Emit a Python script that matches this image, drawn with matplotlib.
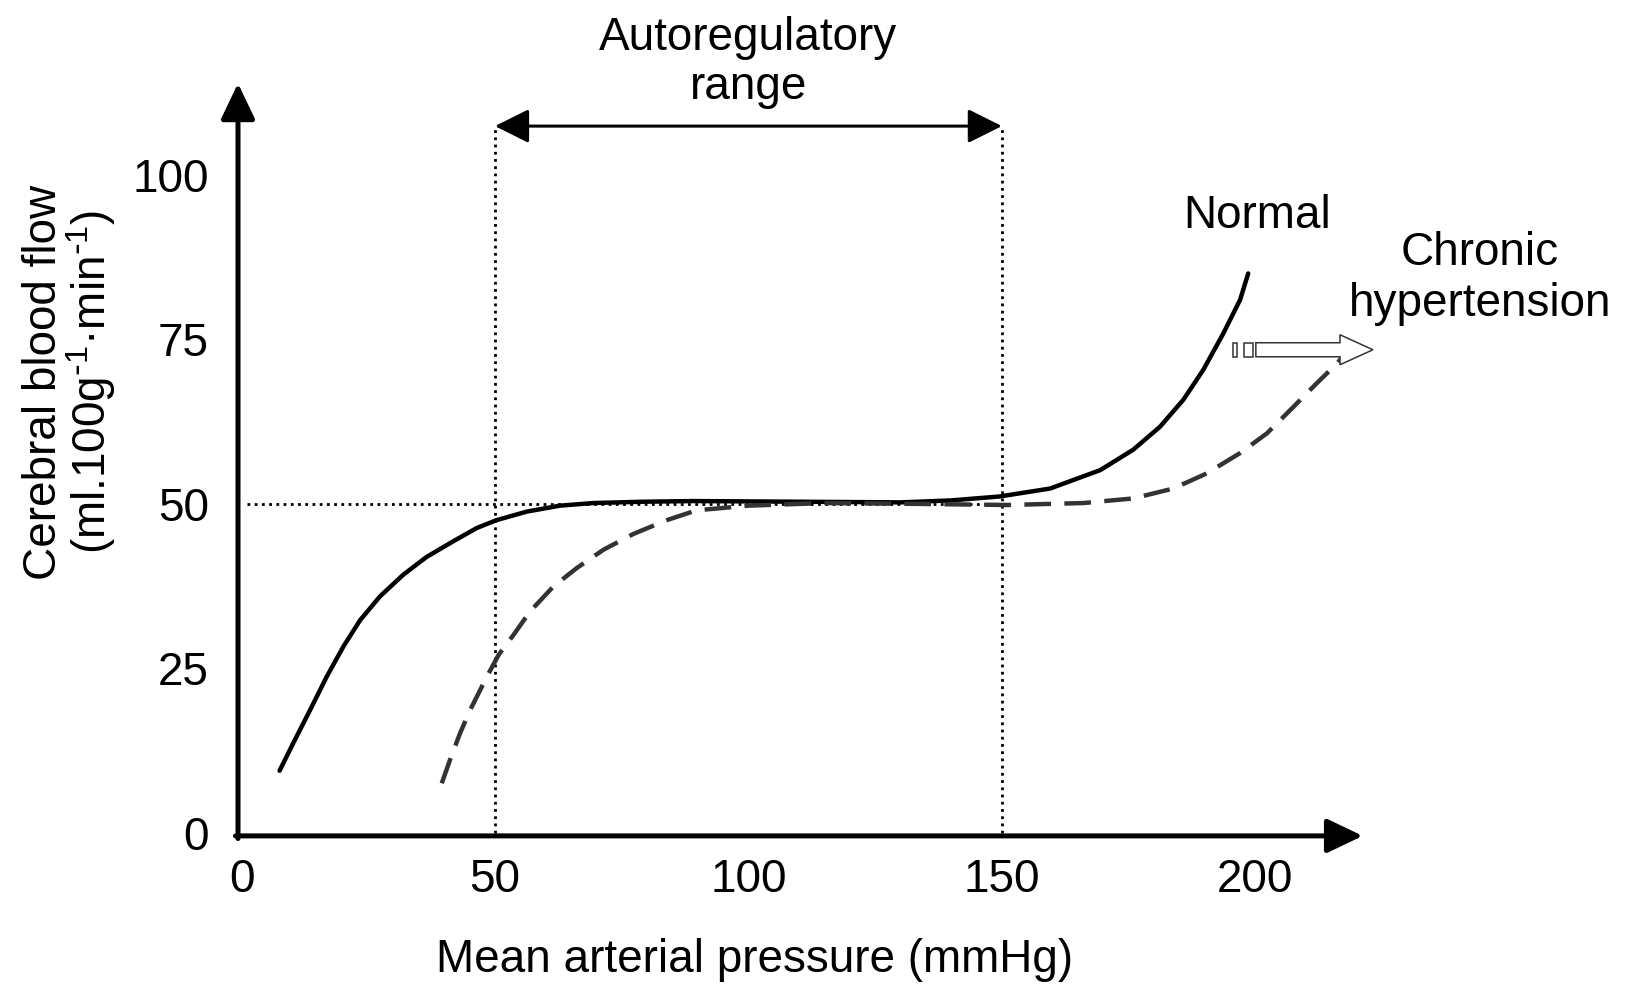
import matplotlib
matplotlib.use('Agg')
from matplotlib import pyplot as plt
import matplotlib.patches as mpatches

plt.rcParams['font.family'] = ['Liberation Sans', 'DejaVu Sans']
plt.rcParams['mathtext.default'] = 'regular'

# curve values
normal_x = [7.5, 10.2, 13.5, 16.8, 20.1, 23.4, 27.3, 31.9, 36.5, 41.8, 46.4,
            50.3, 56.3, 62.8, 69.4, 79.3, 89.1, 110.0, 130.0, 140.0, 149.6,
            159.5, 169.4, 175.9, 181.2, 185.8, 189.7, 193.7, 197.0, 198.6]
normal_y = [9.4, 13.6, 18.6, 23.7, 28.3, 32.3, 35.9, 39.2, 41.9, 44.3, 46.3,
            47.5, 48.8, 49.7, 50.1, 50.3, 50.4, 50.3, 50.2, 50.5, 51.1,
            52.3, 55.1, 58.2, 61.7, 65.8, 70.3, 75.9, 81.0, 85.0]

chronic_x = [39.5, 41.1, 43.1, 45.4, 48.4, 50.7, 53.6, 56.9, 61.5, 66.1, 71.4,
             77.3, 83.9, 89.8, 100.0, 115.0, 130.0, 151.0, 166.1, 175.9, 183.8,
             190.4, 197.0, 202.3, 207.5, 212.1, 216.1, 220.7]
chronic_y = [7.5, 11.0, 15.1, 19.1, 23.7, 27.0, 30.0, 33.6, 37.4, 40.2, 43.0,
             45.4, 47.5, 49.0, 49.7, 50.1, 50.0, 49.8, 50.1, 50.8, 52.3,
             54.6, 57.7, 60.7, 64.7, 68.3, 71.3, 75.6]

x_ticks = [0, 50, 100, 150, 200]
y_ticks = [0, 25, 50, 75, 100]
auto_range = [50, 150]
baseline_flow = 50

FS = 33
DOT = (0, (1, 1.6))

fig = plt.figure(figsize=(16.32, 9.9), dpi=100)
ax = fig.add_axes([0.14583, 0.15566, 0.7476, 0.8007])
ax.set_xlim(-0.7, 240)
ax.set_ylim(-0.5, 120)
for s in ax.spines.values():
    s.set_visible(False)
ax.set_xticks(x_ticks)
ax.set_yticks(y_ticks)
ax.tick_params(length=0, labelsize=FS)
ax.tick_params(axis='x', pad=16)
ax.tick_params(axis='y', pad=21)

# axes with arrow heads
ax.annotate('', xy=(221.2, -0.5), xytext=(-1.2, -0.5), annotation_clip=False,
            arrowprops=dict(arrowstyle='-|>,head_length=22,head_width=10.5',
                            mutation_scale=1, lw=3.6, color='black',
                            shrinkA=0, shrinkB=0))
ax.annotate('', xy=(-0.7, 113.9), xytext=(-0.7, -0.9), annotation_clip=False,
            arrowprops=dict(arrowstyle='-|>,head_length=22,head_width=10.5',
                            mutation_scale=1, lw=3.6, color='black',
                            shrinkA=0, shrinkB=0))

# dotted guide lines
for xv in auto_range:
    ax.plot([xv, xv], [0, 107.4], color='black', lw=2.0, linestyle=DOT,
            clip_on=False)
ax.plot([1.0, auto_range[1]], [baseline_flow, baseline_flow], color='black',
        lw=2.0, linestyle=DOT)

# autoregulatory range arrow
ax.annotate('', xy=(auto_range[0], 107.4), xytext=(auto_range[1], 107.4),
            annotation_clip=False,
            arrowprops=dict(arrowstyle='<|-|>,head_length=21,head_width=10.5',
                            mutation_scale=1, lw=2.2, color='black',
                            shrinkA=0, shrinkB=0))
ax.text(100, 117.0, 'Autoregulatory\nrange', fontsize=FS, ha='center',
        va='center', linespacing=1.15, clip_on=False)

# curves
ax.plot(normal_x, normal_y, color='black', lw=3.2, solid_capstyle='round',
        solid_joinstyle='round')
ax.plot(chronic_x, chronic_y, color='#333333', lw=3.2, dashes=(6, 3))

# hollow shift arrow
shift = mpatches.FancyArrow(200.1, 73.4, 23.1, 0, width=2.13, head_width=4.56,
                            head_length=6.5, length_includes_head=True,
                            fc='white', ec='#333333', lw=1.1, zorder=5,
                            clip_on=False)
ax.add_patch(shift)
for x0, w in [(195.6, 0.8), (197.8, 1.8)]:
    ax.add_patch(mpatches.Rectangle((x0, 73.4 - 1.065), w, 2.13, fc='white',
                                    ec='#333333', lw=1.1, zorder=5,
                                    clip_on=False))

ax.text(200.3, 93.8, 'Normal', fontsize=FS, ha='center', va='center')
ax.text(244.3, 84.2, 'Chronic\nhypertension', fontsize=FS, ha='center',
        va='center', linespacing=1.2, clip_on=False)

fig.text(0.4624, 0.0307, 'Mean arterial pressure (mmHg)', fontsize=FS,
         ha='center', va='center')
fig.text(0.0429, 0.614,
         'Cerebral blood flow\n(ml.100g$^{\\text{-}1}$·min$^{\\text{-}1}$)',
         fontsize=FS, ha='center', va='center', rotation=90, linespacing=0.95,
         multialignment='center')

fig.savefig('out.png', dpi=100)
